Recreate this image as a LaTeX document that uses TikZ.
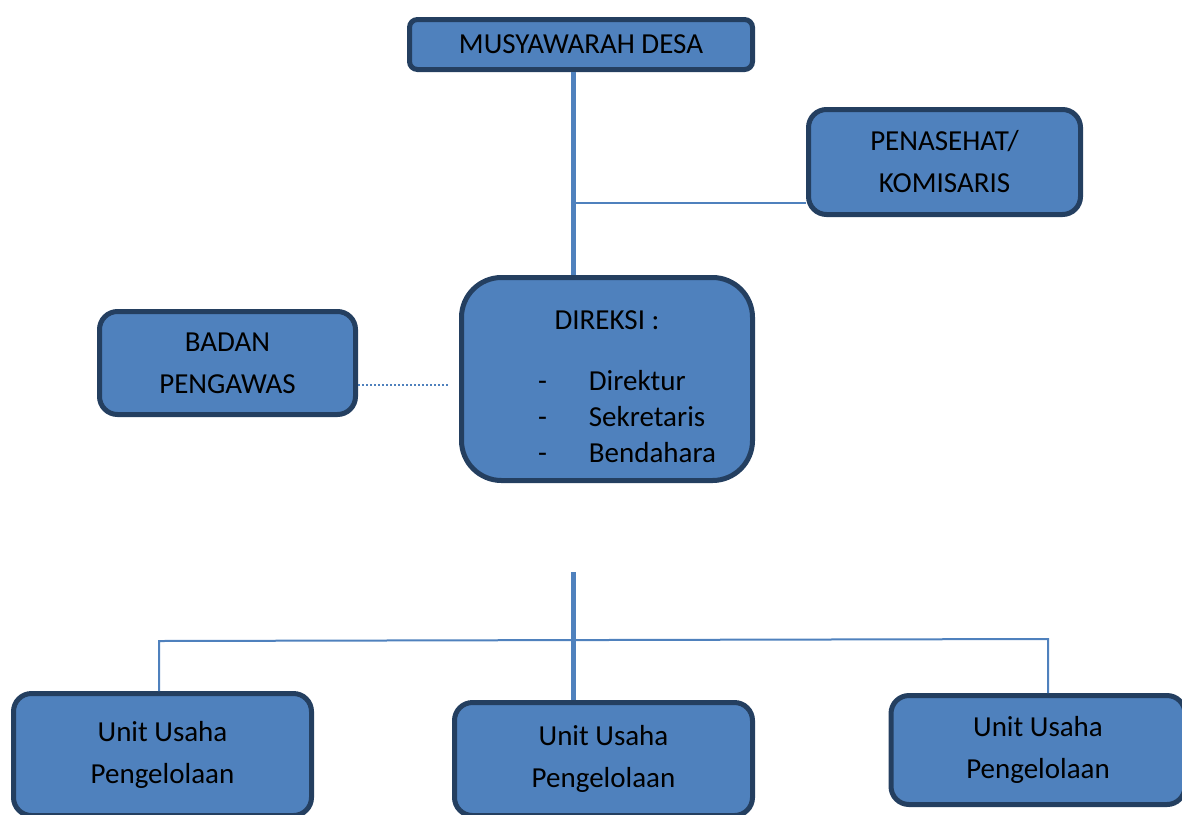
\documentclass[tikz,border=0pt]{standalone}
\usepackage{fontspec}
\setmainfont{Carlito}
\definecolor{boxblue}{HTML}{4F81BD}
\definecolor{boxedge}{HTML}{243F60}
\tikzset{
  orgbox/.style={draw=boxedge, line width=2.5pt, fill=boxblue, rounded corners=#1,
    align=center, inner sep=0pt, font=\fontsize{14.5}{21}\selectfont},
  orgbox/.default=9pt,
  mainline/.style={boxblue, line width=2.5pt},
  thinline/.style={boxblue, line width=1pt},
  dotline/.style={boxblue, line width=1pt, densely dotted},
}

\begin{document}
\begin{tikzpicture}[x=0.5pt, y=-0.5pt]
\useasboundingbox (0,0) rectangle (1182,814);
\clip (0,0) rectangle (1182,814);
%the boxes
\node [orgbox=4pt, minimum width=171.5pt, minimum height=25pt] (musdes) at (581,44.5) {MUSYAWARAH DESA};
\node [orgbox, minimum width=136pt, minimum height=52.5pt] (penasehat) at (944.5,162) {PENASEHAT/\\KOMISARIS};
\node [orgbox, minimum width=128pt, minimum height=51.5pt] (pengawas) at (227.5,363) {BADAN\\PENGAWAS};
\node [orgbox=20pt, minimum width=145.5pt, minimum height=101.5pt, font=\fontsize{14.5}{18}\selectfont] (direksi) at (607,379)
  {\rule{0pt}{22pt}DIREKSI :\\[12.5pt]\hspace{20pt}\begin{tabular}[t]{@{}l@{\hspace{21pt}}l@{}}-&Direktur\\-&Sekretaris\\-&Bendahara\end{tabular}};
%the units
\node [orgbox, minimum width=149pt, minimum height=61pt] (unit1) at (162.5,754.5) {Unit Usaha\\Pengelolaan};
\node [orgbox, minimum width=149pt, minimum height=56.5pt] (unit2) at (603.5,759) {Unit Usaha\\Pengelolaan};
\node [orgbox, minimum width=147pt, minimum height=54.5pt] (unit3) at (1038,750) {Unit Usaha\\Pengelolaan};
%the lines
\draw [mainline] ([xshift=-4pt]musdes.south) -- ([xshift=-4pt]musdes.south |- direksi.north);
\coordinate (branch) at (576,203);
\draw [thinline] (branch) -- (branch -| penasehat.west);
\coordinate (dotend) at (450,385);
\draw [dotline] (pengawas.east |- dotend) -- (dotend);
\coordinate (stem) at (573,572);
\draw [mainline] (stem) -- (stem |- unit2.north);
\coordinate (busleft) at (159,641);
\coordinate (busright) at (1048,639);
\draw [thinline] (busleft |- unit1.north) -- (busleft) -- (busright) -- (busright |- unit3.north);
\end{tikzpicture}
\end{document}
